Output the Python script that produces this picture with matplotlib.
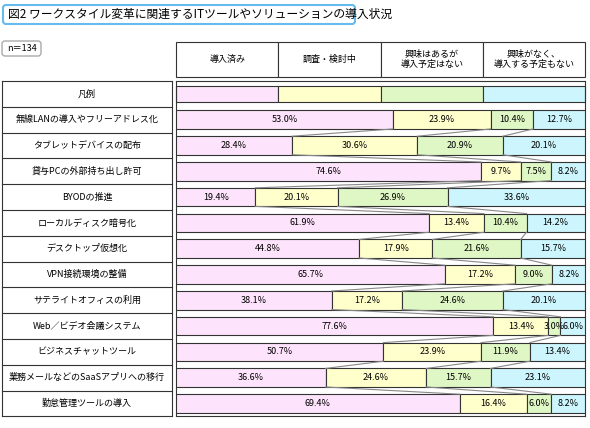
import matplotlib
matplotlib.use("Agg")
import matplotlib.pyplot as plt
from matplotlib.patches import FancyBboxPatch, Rectangle
import numpy as np

plt.rcParams['font.family'] = ['Noto Sans CJK JP', 'DejaVu Sans']

TITLE = "図2 ワークスタイル変革に関連するITツールやソリューションの導入状況"
N_LABEL = "n＝134"
SERIES = ["導入済み", "調査・検討中", "興味はあるが\n導入予定はない", "興味がなく、\n導入する予定もない"]
COLORS = ["#fde3fb", "#ffffcc", "#dff7c4", "#ccf5fd"]
ITEMS = ["無線LANの導入やフリーアドレス化", "タブレットデバイスの配布", "貸与PCの外部持ち出し許可",
         "BYODの推進", "ローカルディスク暗号化", "デスクトップ仮想化", "VPN接続環境の整備",
         "サテライトオフィスの利用", "Web／ビデオ会議システム", "ビジネスチャットツール",
         "業務メールなどのSaaSアプリへの移行", "勤怠管理ツールの導入"]
DONE = [53.0, 28.4, 74.6, 19.4, 61.9, 44.8, 65.7, 38.1, 77.6, 50.7, 36.6, 69.4]
STUDY = [23.9, 30.6, 9.7, 20.1, 13.4, 17.9, 17.2, 17.2, 13.4, 23.9, 24.6, 16.4]
INTEREST = [10.4, 20.9, 7.5, 26.9, 10.4, 21.6, 9.0, 24.6, 3.0, 11.9, 15.7, 6.0]
NONE = [12.7, 20.1, 8.2, 33.6, 14.2, 15.7, 8.2, 20.1, 6.0, 13.4, 23.1, 8.2]

W, H = 590, 428
fig = plt.figure(figsize=(W / 100, H / 100), dpi=100)
bg = fig.add_axes([0, 0, 1, 1])
bg.set_xlim(0, W)
bg.set_ylim(H, 0)
bg.axis("off")

# title box
bg.add_patch(FancyBboxPatch((4, 6), 350, 17, boxstyle="round,pad=1,rounding_size=3",
                            fc="white", ec="#66bbee", lw=1.5))
bg.text(8, 14.5, TITLE, fontsize=8.5, va="center", ha="left")
bg.add_patch(FancyBboxPatch((3, 42), 37, 13, boxstyle="round,pad=1,rounding_size=3",
                            fc="white", ec="#aaaaaa", lw=1))
bg.text(7, 48.5, N_LABEL, fontsize=6.5, va="center")

X0, X1 = 176, 585
colw = (X1 - X0) / 4
# header row
for i, s in enumerate(SERIES):
    bg.add_patch(Rectangle((X0 + i * colw, 42), colw, 35, fc="white", ec="#333333", lw=0.8))
    bg.text(X0 + (i + 0.5) * colw, 59.5, s, fontsize=6.5, ha="center", va="center", linespacing=1.1)

# left label column
top, step = 81, 25.8
nrows = len(ITEMS) + 1
bottom = top + nrows * step
bg.plot([2, 2], [top, bottom], color="#333333", lw=0.8)
bg.plot([X0 - 4, X0 - 4], [top, bottom], color="#333333", lw=0.8)
bg.plot([X0, X0], [top, bottom], color="#333333", lw=0.8)
for r in range(nrows + 1):
    bg.plot([2, X0 - 4], [top + r * step] * 2, color="#333333", lw=0.8)
bg.plot([X0, X1], [top, top], color="#333333", lw=0.8)
bg.plot([X0, X1], [bottom, bottom], color="#333333", lw=0.8)
bg.plot([X1, X1], [top, bottom], color="#333333", lw=0.8)
for r, lab in enumerate(["凡例"] + ITEMS):
    bg.text((2 + X0 - 4) / 2, top + (r + 0.5) * step, lab, fontsize=6.5, ha="center", va="center")

# legend swatches
for i in range(4):
    bg.add_patch(Rectangle((X0 + i * colw, top + 5), colw, step - 10, fc=COLORS[i], ec="#333333", lw=0.8))

# bar axes
ax = fig.add_axes([X0 / W, 1 - bottom / H, (X1 - X0) / W, (nrows - 1) * step / H])
ax.set_xlim(0, 100)
ax.set_ylim(len(ITEMS) - 0.5, -0.5)
ax.axis("off")
data = np.array([DONE, STUDY, INTEREST, NONE])
y = np.arange(len(ITEMS))
bh = 0.72
left = np.zeros(len(ITEMS))
for k in range(4):
    ax.barh(y, data[k], left=left, height=bh, color=COLORS[k], edgecolor="#333333", lw=0.8)
    for j in range(len(ITEMS)):
        ax.text(left[j] + data[k][j] / 2, y[j], f"{data[k][j]:.1f}%", fontsize=6.5,
                ha="center", va="center")
    left += data[k]
# connector lines
cum = np.cumsum(data, axis=0)
for k in range(3):
    for j in range(len(ITEMS) - 1):
        ax.plot([cum[k][j], cum[k][j + 1]], [y[j] + bh / 2, y[j + 1] - bh / 2],
                color="#888888", lw=0.8)

fig.savefig("out.png", dpi=100)
